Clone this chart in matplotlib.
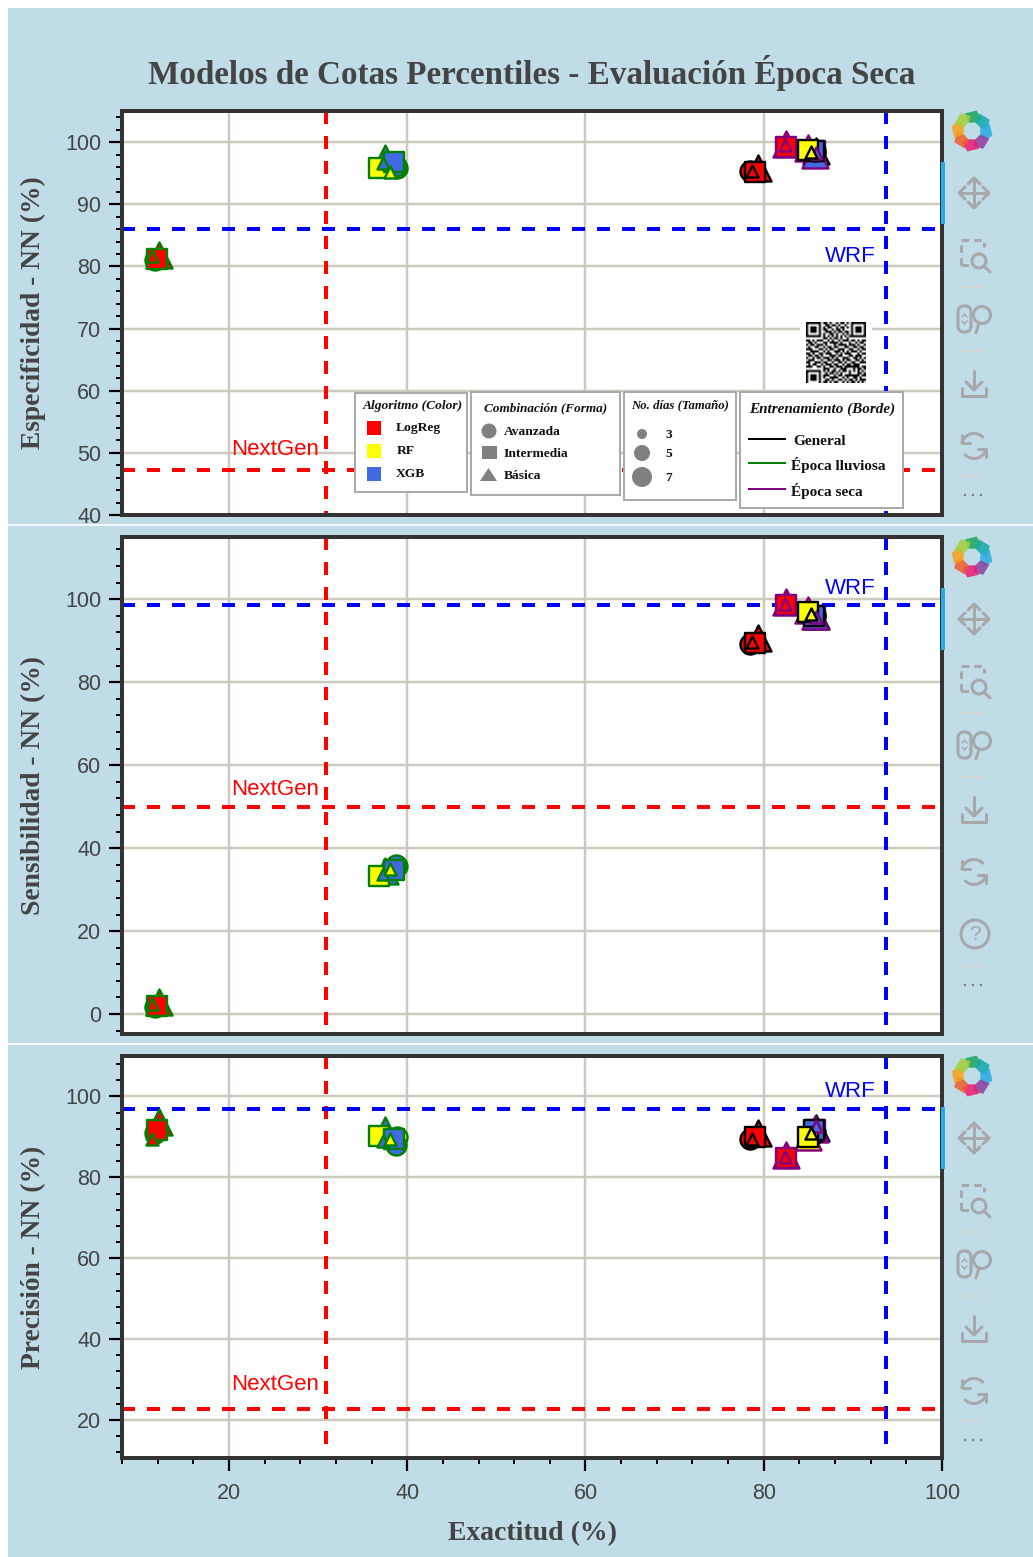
import numpy as np
import matplotlib
matplotlib.use("Agg")
import matplotlib.pyplot as plt
from matplotlib.patches import Rectangle, Circle, FancyBboxPatch, Polygon, Arc

W, H = 1033, 1557

# one entry per model, in drawing order
train = ['lluv', 'lluv', 'lluv', 'lluv', 'lluv', 'lluv', 'lluv', 'lluv', 'lluv', 'lluv', 'lluv',
         'seca', 'seca', 'seca', 'gen', 'seca', 'seca', 'seca', 'seca',
         'gen', 'gen', 'gen', 'gen', 'gen', 'gen', 'gen', 'seca', 'gen']
algo = ['LogReg', 'LogReg', 'LogReg', 'LogReg', 'XGB', 'RF', 'XGB', 'RF', 'XGB', 'XGB', 'RF',
        'LogReg', 'LogReg', 'LogReg', 'XGB', 'RF', 'XGB', 'XGB', 'XGB',
        'LogReg', 'LogReg', 'LogReg', 'LogReg', 'XGB', 'XGB', 'RF', 'XGB', 'RF']
combo = ['circ', 'tri', 'sq', 'tri', 'tri', 'circ', 'circ', 'sq', 'sq', 'tri', 'tri',
         'tri', 'sq', 'tri', 'tri', 'tri', 'circ', 'tri', 'sq',
         'circ', 'tri', 'sq', 'tri', 'circ', 'sq', 'sq', 'tri', 'tri']
days = [5, 7, 5, 3, 7, 5, 5, 5, 5, 3, 3,
        7, 5, 3, 7, 7, 5, 7, 5,
        5, 7, 5, 3, 5, 5, 5, 3, 3]
exact = [11.7, 12.2, 11.9, 11.4, 37.5, 38.8, 38.7, 36.8, 38.5, 37.3, 38.1,
         82.5, 82.5, 82.4, 85.9, 85.0, 85.7, 85.8, 85.8,
         78.5, 79.4, 79.0, 78.7, 85.7, 85.6, 85.0, 85.9, 85.3]
espec = [81.0, 81.8, 81.2, 81.7, 97.4, 95.9, 96.2, 95.8, 96.8, 96.6, 95.2,
         99.7, 99.2, 99.5, 98.6, 99.0, 98.2, 98.0, 98.5,
         95.3, 95.8, 95.2, 95.3, 98.5, 98.5, 98.7, 98.2, 98.4]
sensi = [1.6, 2.9, 1.9, 2.4, 34.6, 35.7, 35.9, 33.3, 34.7, 33.8, 35.0,
         99.3, 98.5, 98.9, 96.0, 97.5, 96.0, 95.9, 95.9,
         89.2, 90.6, 89.4, 89.6, 96.2, 95.9, 96.9, 95.8, 96.4]
preci = [90.9, 93.8, 91.6, 89.6, 91.6, 89.9, 87.9, 90.1, 89.6, 89.0, 89.6,
         85.4, 84.9, 85.0, 92.3, 90.0, 91.2, 92.0, 91.6,
         89.6, 90.9, 89.9, 89.6, 91.0, 91.6, 89.9, 92.8, 90.9]

algo_names = ['LogReg', 'RF', 'XGB']
combo_names = ['Avanzada', 'Intermedia', 'Básica']
days_names = ['3', '5', '7']
train_names = ['General', 'Época lluviosa', 'Época seca']

wrf_x, nextgen_x = 93.7, 30.9
ylabels = ['Especificidad - NN (%)', 'Sensibilidad - NN (%)', 'Precisión - NN (%)']
wrf_y = [86.0, 98.5, 97.0]
nextgen_y = [47.3, 50.0, 22.7]

qr_rows = [
    "1111111011010010110101111111",
    "1000001001101101001001000001",
    "1011101010110010110101011101",
    "1011101011001011010001011101",
    "1011101001110101101101011101",
    "1000001010011010010101000001",
    "1111111010101010101011111111",
    "0000000011010110100100000000",
    "1101011100101001011101101011",
    "0110100011011110100010010110",
    "1011011101000101111011101001",
    "0100110010110110001100110110",
    "1110001101011001110011001011",
    "0011110010100111010101110100",
    "1101001101110010101110001011",
    "0110110100011101100011011100",
    "1001011011101010011100110101",
    "0111000100110111010110011010",
    "1100111011001001101001100111",
    "0101100101110110010110111000",
    "1110011010011011101111111011",
    "0000000011100100111000101101",
    "1111111010101101011010101010",
    "1000001001011010100010001101",
    "1011101011100101101111111011",
    "1011101010011110010100110100",
    "1011101001101001101011010111",
    "1000001011010110010101101010",
]

colors = {'LogReg': '#ff0000', 'RF': '#ffff00', 'XGB': '#4169e1'}
edges = {'gen': '#000000', 'lluv': '#008000', 'seca': '#800080'}
markers = {'circ': 'o', 'sq': 's', 'tri': '^'}
sizes = {3: 75, 5: 207, 7: 350}

px = 0.72
serif = 'Liberation Serif'
sans = 'Liberation Sans'
bg = '#bfdce7'
grey = '#a6a8aa'

fig = plt.figure(figsize=(W / 100, H / 100), dpi=100, facecolor='white')


def overlay(z):
    a = fig.add_axes([0, 0, 1, 1], zorder=z)
    a.set_xlim(0, W)
    a.set_ylim(H, 0)
    a.axis('off')
    return a


back = overlay(-1)
back.add_patch(Rectangle((8, 8), W - 8, H - 8, fc=bg, ec='none'))
back.plot([0, W], [525, 525], color='white', lw=1.2)
back.plot([0, W], [1044, 1044], color='white', lw=1.2)

panels = [(111, 515), (537, 1034), (1056, 1458)]
limits = [(40, 105), (-4.8, 115), (10.6, 110)]
values = [espec, sensi, preci]
major = [10, 20, 20]
minor = [2, 4, 4]
wrf_off = [-24, 8.6, 8.6]
nextgen_off = [10.8, 8.6, 13.7]

for i, (top, bot) in enumerate(panels):
    ax = fig.add_axes([122 / W, 1 - bot / H, (942 - 122) / W, (bot - top) / H])
    ax.set_xlim(8, 100)
    ax.set_ylim(*limits[i])
    ax.set_xticks(np.arange(20, 101, 20))
    ax.set_xticks(np.arange(8, 101, 4), minor=True)
    ax.set_yticks(np.arange(major[i] * np.ceil(limits[i][0] / major[i]), limits[i][1], major[i]))
    ax.set_yticks(np.arange(minor[i] * np.ceil(limits[i][0] / minor[i]), limits[i][1], minor[i]), minor=True)
    ax.grid(True, which='major', color='#ccc9bd', lw=2.5 * px)
    ax.set_axisbelow(True)
    for s in ax.spines.values():
        s.set_linewidth(4 * px)
        s.set_color('#333333')
        s.set_zorder(6)
    ax.tick_params(axis='y', which='major', direction='out', length=13 * px, width=2.2 * px,
                   labelsize=15.5, labelcolor='#444444', pad=5.5)
    ax.tick_params(axis='y', which='minor', direction='out', length=6 * px, width=2 * px)
    if i == 2:
        ax.tick_params(axis='x', which='major', direction='out', length=13 * px, width=2.2 * px,
                       labelsize=15.5, labelcolor='#444444', pad=8.3)
        ax.tick_params(axis='x', which='minor', direction='out', length=6 * px, width=2 * px)
        ax.set_xlabel('Exactitud (%)', fontfamily=serif, fontweight='bold', fontsize=20,
                      color='#444444', labelpad=12.3)
    else:
        ax.tick_params(axis='x', which='both', length=0, labelbottom=False)
    for t in ax.get_xticklabels() + ax.get_yticklabels():
        t.set_fontfamily(sans)
    ax.set_ylabel(ylabels[i], fontfamily=serif, fontweight='bold', fontsize=19.8, color='#444444')
    ax.yaxis.set_label_coords((46 - 122) / (942 - 122), 0.5)

    dash = (0, (3.25, 3))
    # vertical dashes start from the top edge
    vt = ax.get_xaxis_transform()
    ax.plot([nextgen_x, nextgen_x], [1, 0], transform=vt, color='#ff0000', lw=4 * px, ls=dash, zorder=2)
    ax.plot([wrf_x, wrf_x], [1, 0], transform=vt, color='#0000ff', lw=4 * px, ls=dash, zorder=2)
    ax.axhline(nextgen_y[i], color='#ff0000', lw=4 * px, ls=dash, zorder=2)
    ax.axhline(wrf_y[i], color='#0000ff', lw=4 * px, ls=dash, zorder=2)
    ax.annotate('WRF', (wrf_x, wrf_y[i]), xytext=(-7.5, wrf_off[i]),
                textcoords='offset points', ha='right', color='#0000ff',
                fontfamily=sans, fontsize=16)
    ax.annotate('NextGen', (nextgen_x, nextgen_y[i]), xytext=(-5, nextgen_off[i]),
                textcoords='offset points', ha='right', color='#ff0000',
                fontfamily=sans, fontsize=16)

    for k in range(len(train)):
        ax.scatter(exact[k], values[i][k], s=sizes[days[k]], marker=markers[combo[k]],
                   c=colors[algo[k]], edgecolors=edges[train[k]], linewidths=2.4 * px,
                   zorder=3 + k * 0.01)

top = overlay(5)
top.text(532, 73, 'Modelos de Cotas Percentiles - Evaluación Época Seca', ha='center', va='center',
         fontfamily=serif, fontweight='bold', fontsize=23.85, color='#444444')


def box(x0, y0, x1, y1):
    top.add_patch(Rectangle((x0, y0), x1 - x0, y1 - y0, fc='white', ec='#aaaaaa', lw=2 * px))


def ltext(x, y, s, **kw):
    top.text(x, y, s, va='center', fontfamily=serif, fontweight='bold', fontsize=kw.pop('fs', 9.7),
             color='#111111', **kw)


# legend boxes
box(355, 393, 467, 492)
ltext(413, 406, 'Algoritmo (Color)', ha='center', style='italic')
for name, y in zip(algo_names, [428, 451, 474]):
    top.add_patch(Rectangle((367, y - 7), 14, 14, fc=colors[name], ec='none'))
ltext(396, 428, algo_names[0])
ltext(397, 451, algo_names[1])
ltext(396, 474, algo_names[2])

box(471, 392, 620, 495)
ltext(546, 408, 'Combinación (Forma)', ha='center', style='italic', fs=9.5)
top.add_patch(Circle((489, 431), 7.5, fc='#808080', ec='none'))
top.add_patch(Rectangle((482, 446), 15, 13, fc='#808080', ec='none'))
top.add_patch(Polygon([(480, 481), (497, 481), (488.5, 468)], fc='#808080', ec='none'))
for name, y in zip(combo_names, [432, 454, 476]):
    ltext(504, y, name)

box(624, 392, 736, 500)
ltext(680, 405, 'No. días (Tamaño)', ha='center', style='italic', fs=9.2)
for name, y, r in zip(days_names, [434, 453, 477], [5, 8, 10]):
    top.add_patch(Circle((642, y), r, fc='#808080', ec='none'))
    ltext(665, y + 1, name)

box(740, 392, 903, 508)
ltext(822, 409, 'Entrenamiento (Borde)', ha='center', style='italic', fs=10.9)
for name, y, tx, c in zip(train_names, [439, 463, 489], [793, 791, 791], ['#000000', '#008000', '#800080']):
    top.plot([749, 785], [y, y], color=c, lw=2 * px)
    ltext(tx, y + 2, name, fs=11)

# qr code
top.add_patch(Rectangle((800, 318), 72, 70, fc='white', ec='none'))
qr = np.array([[int(c) for c in row] for row in qr_rows])
top.imshow(1 - qr, cmap='gray', vmin=0, vmax=1, extent=(806, 866, 383, 322), interpolation='bilinear',
           aspect='auto', zorder=2)
top.set_xlim(0, W)
top.set_ylim(H, 0)


def line(xs, ys, c=grey, lw=3, **kw):
    top.plot(xs, ys, color=c, lw=lw * px, solid_capstyle='round', solid_joinstyle='round', **kw)


def toolbar(t, has_help, dots_off, sep_last):
    # logo pinwheel
    ring = ['#1aa55f', '#14a9a9', '#29abe2', '#8e3fa0', '#ec1a72', '#f15a29', '#f9a01b', '#a4cf3a']
    for n, c in enumerate(ring):
        a = -112 + 45 * n
        pts = [(9, a), (9, a + 45), (15, a + 62), (21, a + 35), (19, a)]
        xy = [(972 + r * np.cos(np.radians(d)), t + 20 + r * np.sin(np.radians(d))) for r, d in pts]
        top.add_patch(Polygon(xy, fc=c, ec='none', alpha=0.85))
    # active bar
    top.add_patch(Rectangle((941, t + 51), 4, 62, fc='#29abe2', ec='none'))
    # move
    cx, cy = 974, t + 82
    line([cx - 14, cx + 14], [cy, cy])
    line([cx, cx], [cy - 14, cy + 14])
    line([cx - 6, cx, cx + 6], [cy - 9, cy - 15, cy - 9])
    line([cx - 6, cx, cx + 6], [cy + 9, cy + 15, cy + 9])
    line([cx - 9, cx - 15, cx - 9], [cy - 6, cy, cy + 6])
    line([cx + 9, cx + 15, cx + 9], [cy - 6, cy, cy + 6])
    # box zoom
    cy = t + 144
    top.plot([961, 961, 984, 984], [cy + 10, cy - 15, cy - 15, cy - 8], color=grey, lw=3 * px, ls=(0, (2.5, 1.7)))
    top.plot([961, 970], [cy + 10, cy + 10], color=grey, lw=3 * px, ls=(0, (2.5, 1.7)))
    top.add_patch(Circle((979, cy + 6), 7, fc='none', ec=grey, lw=3 * px))
    line([984, 990], [cy + 11, cy + 17])
    line([962, 983], [t + 176, t + 176], c='#d5d5d0', lw=1.5)
    # wheel zoom
    cy = t + 207
    top.add_patch(FancyBboxPatch((958, cy - 12), 13, 26, boxstyle='round,pad=0,rounding_size=6',
                                 fc='none', ec=grey, lw=3 * px))
    line([962, 964.5, 967], [cy - 1, cy - 4, cy - 1], lw=1.5)
    line([962, 964.5, 967], [cy + 3, cy + 6, cy + 3], lw=1.5)
    top.add_patch(Circle((982, cy - 3), 8.5, fc='none', ec=grey, lw=3 * px))
    line([979, 976], [cy + 5, cy + 15])
    line([962, 983], [t + 240, t + 240], c='#d5d5d0', lw=1.5)
    # save
    cy = t + 274
    line([974, 974], [cy - 14, cy + 4])
    line([966, 974, 982], [cy - 3, cy + 5, cy - 3])
    line([962, 962, 986, 986], [cy + 3, cy + 11, cy + 11, cy + 3])
    # reset
    cy = t + 335
    top.add_patch(Arc((974, cy), 25, 25, theta1=190, theta2=320, ec=grey, lw=3 * px))
    top.add_patch(Arc((974, cy), 25, 25, theta1=10, theta2=140, ec=grey, lw=3 * px))
    line([962, 962, 970], [cy - 11, cy - 3, cy - 3])
    line([986, 986, 978], [cy + 11, cy + 3, cy + 3])
    if has_help:
        cy = t + 397
        top.add_patch(Circle((975, cy), 14, fc='none', ec=grey, lw=3 * px))
        top.text(975, cy, '?', ha='center', va='center', color=grey, fontfamily=sans, fontsize=15)
    line([962, 983], [t + sep_last, t + sep_last], c='#d5d5d0', lw=1.5)
    for dx in [965, 973, 981]:
        top.add_patch(Circle((dx, t + dots_off), 1.2, fc='#808080', ec='none'))


toolbar(111, False, 384, 365)
toolbar(537, True, 448, 429)
toolbar(1056, False, 384, 365)

fig.savefig('out.png', dpi=100, facecolor='white')
